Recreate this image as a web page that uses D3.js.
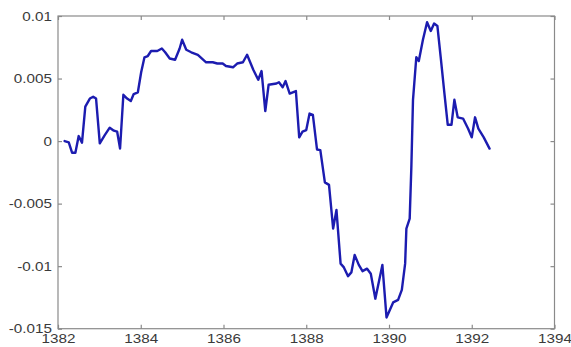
<!DOCTYPE html>
<html>
<head>
<meta charset="utf-8">
<script src="https://cdn.jsdelivr.net/npm/d3@7"></script>
<style>
  html, body { margin: 0; padding: 0; background: #fff; }
  svg { display: block; }
</style>
</head>
<body>
<svg id="chart" width="571" height="347"></svg>
<script>
// values
const years = [
  1382.16, 1382.26, 1382.34, 1382.42, 1382.50, 1382.58, 1382.66, 1382.77, 1382.85, 1382.92,
  1383.01, 1383.13, 1383.25, 1383.35, 1383.43, 1383.50, 1383.58, 1383.67, 1383.76, 1383.83,
  1383.93, 1384.01, 1384.09, 1384.17, 1384.25, 1384.40, 1384.51, 1384.59, 1384.70, 1384.83,
  1384.94, 1385.00, 1385.10, 1385.22, 1385.38, 1385.58, 1385.74, 1385.85, 1385.98, 1386.06,
  1386.23, 1386.33, 1386.47, 1386.57, 1386.72, 1386.84, 1386.92, 1387.01, 1387.09, 1387.28,
  1387.34, 1387.43, 1387.50, 1387.60, 1387.75, 1387.83, 1387.91, 1388.00, 1388.08, 1388.16,
  1388.26, 1388.34, 1388.45, 1388.55, 1388.65, 1388.73, 1388.83, 1388.91, 1389.01, 1389.09,
  1389.17, 1389.27, 1389.36, 1389.47, 1389.56, 1389.67, 1389.84, 1389.94, 1390.10, 1390.22,
  1390.31, 1390.39, 1390.42, 1390.50, 1390.54, 1390.58, 1390.66, 1390.72, 1390.82, 1390.92,
  1391.01, 1391.09, 1391.17, 1391.25, 1391.34, 1391.42, 1391.51, 1391.58, 1391.66, 1391.79,
  1391.91, 1392.00, 1392.08, 1392.16, 1392.29, 1392.43
];
const values = [
  0.0000, -0.0001, -0.00093, -0.00093, 0.0004, -0.00013, 0.00275, 0.0034, 0.00355, 0.0034,
  -0.00018, 0.00048, 0.00107, 0.00083, 0.00075, -0.00059, 0.0037, 0.0034, 0.0032, 0.00376,
  0.0039, 0.0055, 0.0067, 0.0068, 0.0072, 0.0072, 0.0074, 0.0071, 0.0066, 0.0065,
  0.0074, 0.0081, 0.0073, 0.0071, 0.0069, 0.0063, 0.0063, 0.0062, 0.0062, 0.0060,
  0.0059, 0.0062, 0.0063, 0.0069, 0.0057, 0.0049, 0.0056, 0.0024, 0.0045, 0.0046,
  0.0047, 0.0043, 0.0048, 0.0038, 0.0040, 0.0003, 0.00075, 0.00088, 0.0022, 0.0021,
  -0.00067, -0.00072, -0.0033, -0.0035, -0.0070, -0.0055, -0.0098, -0.0101, -0.0108, -0.0105,
  -0.0091, -0.0099, -0.0104, -0.0102, -0.0106, -0.0126, -0.0099, -0.0141, -0.0129, -0.0127,
  -0.0119, -0.0098, -0.0070, -0.0062, -0.0021, 0.0033, 0.0067, 0.0064, 0.0081, 0.0095,
  0.0088, 0.0094, 0.0092, 0.0067, 0.0038, 0.0013, 0.0013, 0.0033, 0.0019, 0.0018,
  0.0010, 0.0003, 0.0019, 0.0010, 0.0003, -0.0006
];
const xTicks = [1382, 1384, 1386, 1388, 1390, 1392, 1394];
const yTicks = [-0.015, -0.01, -0.005, 0, 0.005, 0.01];
const yTickLabels = ['-0.015', '-0.01', '-0.005', '0', '0.005', '0.01'];

const margin = { top: 16, right: 16, bottom: 18, left: 58 };
const width = 571, height = 347;
const svg = d3.select('#chart');

const x = d3.scaleLinear()
  .domain([1382, 1394])
  .range([margin.left, width - margin.right - 0.5]);
const y = d3.scaleLinear()
  .domain([-0.015, 0.01])
  .range([height - margin.bottom - 0.3, margin.top]);

const axisColor = '#8a8a8a';
const textColor = '#3a3a3a';
const stretch = 1.22; // the labels in the picture look wider than normal

// box round the plot
svg.append('rect')
  .attr('x', x(1382))
  .attr('y', y(0.01))
  .attr('width', x(1394) - x(1382))
  .attr('height', y(-0.015) - y(0.01))
  .attr('fill', 'none')
  .attr('stroke', axisColor)
  .attr('stroke-width', 1.2);

// inward ticks on all four sides
const tickLen = 4;
const styleAxis = g => {
  g.select('.domain').remove();
  g.selectAll('.tick line').attr('stroke', axisColor).attr('stroke-width', 1.2);
};

svg.append('g')
  .attr('transform', `translate(0,${y(-0.015)})`)
  .call(d3.axisBottom(x).tickValues(xTicks).tickSize(-tickLen).tickPadding(5.5).tickFormat(d3.format('d')))
  .call(styleAxis)
  .call(g => g.selectAll('.tick text')
    .attr('fill', textColor)
    .style('font', '12.5px "Liberation Sans", Arial, sans-serif')
    .attr('transform', `scale(${stretch},1)`));

svg.append('g')
  .attr('transform', `translate(0,${y(0.01)})`)
  .call(d3.axisTop(x).tickValues(xTicks).tickSize(-tickLen).tickFormat(''))
  .call(styleAxis);

svg.append('g')
  .attr('transform', `translate(${x(1382)},0)`)
  .call(d3.axisLeft(y).tickValues(yTicks).tickSize(-tickLen).tickPadding(5)
    .tickFormat((d, i) => yTickLabels[i]))
  .call(styleAxis)
  .call(g => g.selectAll('.tick text')
    .attr('fill', textColor)
    .style('font', '12.5px "Liberation Sans", Arial, sans-serif')
    .attr('transform', `scale(${stretch},1)`));

svg.append('g')
  .attr('transform', `translate(${x(1394)},0)`)
  .call(d3.axisRight(y).tickValues(yTicks).tickSize(-tickLen).tickFormat(''))
  .call(styleAxis);

// the series
const line = d3.line()
  .x((d, i) => x(years[i]))
  .y(d => y(d));

svg.append('path')
  .datum(values)
  .attr('d', line)
  .attr('fill', 'none')
  .attr('stroke', '#1c1cb0')
  .attr('stroke-width', 2.4)
  .attr('stroke-linejoin', 'round')
  .attr('stroke-linecap', 'round');
</script>
</body>
</html>
